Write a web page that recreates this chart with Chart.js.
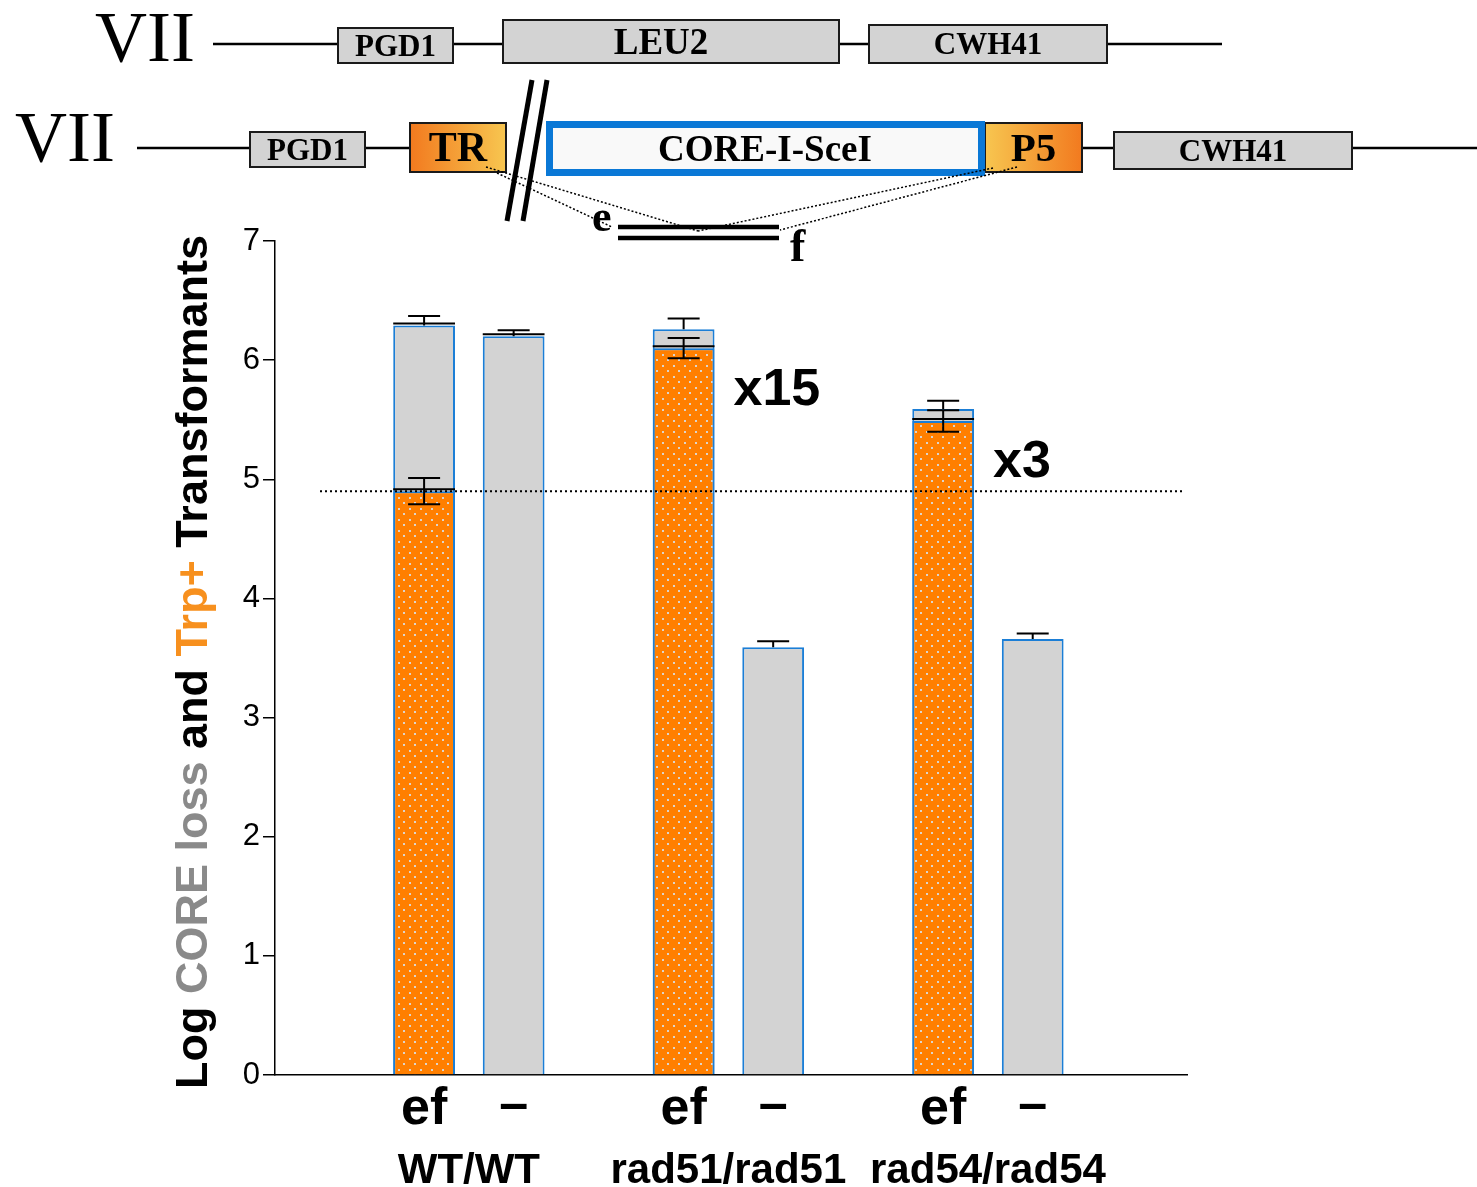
<!DOCTYPE html>
<html>
<head>
<meta charset="utf-8">
<script src="https://cdn.jsdelivr.net/npm/chart.js@4/dist/chart.umd.min.js"></script>
<style>
  html, body { margin: 0; padding: 0; background: #ffffff; }
  canvas { display: block; }
</style>
</head>
<body>
<canvas id="chart" width="1477" height="1187"></canvas>
<script>
// ---- data ----
const genotypes = ['WT/WT', 'rad51/rad51', 'rad54/rad54'];
const barLabels = ['ef', '–'];
// log10 CORE loss after transformation with the ef fragment
const coreLossEf = [6.29, 6.26, 5.59];
const coreLossEfErr = [0.08, 0.09, 0.07];
// log10 Trp+ transformants with the ef fragment
const trpEf = [4.90, 6.10, 5.49];
const trpEfErr = [0.11, 0.085, 0.09];
// log10 CORE loss without fragment
const coreLossNone = [6.20, 3.59, 3.66];
const coreLossNoneErr = [0.05, 0.05, 0.045];
// fold increase of Trp+ transformants over wild type
const foldLabels = ['', 'x15', 'x3'];
const yTicks = [0, 1, 2, 3, 4, 5, 6, 7];

// ---- styles ----
const SANS = '"Liberation Sans", Arial, Helvetica, sans-serif';
const SERIF = '"Liberation Serif", "Times New Roman", serif';
const GREY = '#d3d3d3';
const BLUE = '#1b7ed6';
const ORANGE_TXT = '#f7901e';

function dottedOrange() {
  const t = document.createElement('canvas');
  t.width = 11; t.height = 11;
  const g = t.getContext('2d');
  g.fillStyle = '#ff7f00';
  g.fillRect(0, 0, 11, 11);
  g.fillStyle = '#dcd4cc';
  g.fillRect(2, 2, 2, 2);
  g.fillRect(7, 7, 2, 2);
  return g.createPattern(t, 'repeat');
}

const toPoints = arr => arr.map((v, i) => ({ x: i, y: v }));

// ---- gene map above the plot ----
function geneBox(ctx, x1, y1, x2, y2, fill, label, size, dx) {
  ctx.fillStyle = fill;
  ctx.fillRect(x1, y1, x2 - x1, y2 - y1);
  ctx.strokeStyle = '#1a1a1a';
  ctx.lineWidth = 2;
  ctx.strokeRect(x1, y1, x2 - x1, y2 - y1);
  ctx.fillStyle = '#000';
  ctx.font = 'bold ' + size + 'px ' + SERIF;
  ctx.textAlign = 'center';
  ctx.textBaseline = 'alphabetic';
  ctx.fillText(label, (x1 + x2) / 2 + (dx || 0), (y1 + y2) / 2 + size * 0.33);
}
function gradBox(ctx, x1, y1, x2, y2, cLeft, cRight, label, size) {
  const g = ctx.createLinearGradient(x1, 0, x2, 0);
  g.addColorStop(0, cLeft);
  g.addColorStop(1, cRight);
  geneBox(ctx, x1, y1, x2, y2, g, label, size);
}
function line(ctx, x1, y1, x2, y2, w, dash) {
  ctx.save();
  ctx.strokeStyle = '#000';
  ctx.lineWidth = w;
  ctx.setLineDash(dash || []);
  ctx.beginPath();
  ctx.moveTo(x1, y1);
  ctx.lineTo(x2, y2);
  ctx.stroke();
  ctx.restore();
}

const geneMap = {
  id: 'geneMap',
  afterDraw(chart) {
    const ctx = chart.ctx;
    ctx.save();
    // chromosome VII, wild type
    ctx.fillStyle = '#000';
    ctx.font = '72px ' + SERIF;
    ctx.textAlign = 'left';
    ctx.textBaseline = 'alphabetic';
    ctx.fillText('VII', 95, 61);
    line(ctx, 213, 44, 1222, 44, 2.5);
    geneBox(ctx, 338, 28, 453, 63, GREY, 'PGD1', 31);
    geneBox(ctx, 503, 20, 839, 63, GREY, 'LEU2', 37, -10);
    geneBox(ctx, 869, 25, 1107, 63, GREY, 'CWH41', 31);

    // chromosome VII carrying the CORE-I-SceI insert
    ctx.fillStyle = '#000';
    ctx.font = '72px ' + SERIF;
    ctx.textAlign = 'left';
    ctx.fillText('VII', 15, 161);
    line(ctx, 137, 148, 410, 148, 2.5);
    line(ctx, 1082, 148, 1477, 148, 2.5);
    geneBox(ctx, 250, 132, 365, 167, GREY, 'PGD1', 31);
    gradBox(ctx, 410, 123, 506, 172, '#f27a1f', '#f7c650', 'TR', 42);
    gradBox(ctx, 985, 123, 1082, 172, '#f7c650', '#f27a1f', 'P5', 41);
    geneBox(ctx, 1114, 132, 1352, 169, GREY, 'CWH41', 31);

    // CORE-I-SceI cassette
    ctx.fillStyle = '#f9f9f9';
    ctx.fillRect(546, 121, 439, 55);
    ctx.strokeStyle = '#0a78d6';
    ctx.lineWidth = 7;
    ctx.strokeRect(549.5, 124.5, 432, 48);
    ctx.fillStyle = '#000';
    ctx.font = 'bold 37px ' + SERIF;
    ctx.textAlign = 'center';
    ctx.fillText('CORE-I-SceI', 765, 161);

    // break marks
    line(ctx, 532, 80, 507, 221, 5);
    line(ctx, 547, 80, 523, 221, 5);

    // ef fragment with homology lines
    line(ctx, 486, 167, 698, 231, 1.5, [2, 2]);
    line(ctx, 497, 173, 612, 227, 1.5, [2, 2]);
    line(ctx, 993, 168, 698, 231, 1.5, [2, 2]);
    line(ctx, 1017, 167, 780, 230, 1.5, [2, 2]);
    line(ctx, 618, 227, 779, 227, 4.5);
    line(ctx, 618, 238, 779, 238, 4.5);
    ctx.fillStyle = '#000';
    ctx.font = 'bold 44px ' + SERIF;
    ctx.textAlign = 'left';
    ctx.fillText('e', 592, 231);
    ctx.font = 'bold 46px ' + SERIF;
    ctx.fillText('f', 790, 261);
    ctx.restore();
  }
};

// ---- error bars, reference line, labels ----
const errorBars = {
  id: 'errorBars',
  afterDatasetsDraw(chart) {
    const ctx = chart.ctx;
    const y = chart.scales.y;
    const area = chart.chartArea;
    ctx.save();

    // wild-type Trp+ level
    ctx.strokeStyle = '#000';
    ctx.lineWidth = 2;
    ctx.setLineDash([2, 3]);
    ctx.beginPath();
    ctx.moveTo(area.left + 45, y.getPixelForValue(trpEf[0]));
    ctx.lineTo(area.right - 4, y.getPixelForValue(trpEf[0]));
    ctx.stroke();
    ctx.setLineDash([]);

    chart.data.datasets.forEach((ds, di) => {
      const meta = chart.getDatasetMeta(di);
      meta.data.forEach((bar, i) => {
        const v = ds.data[i].y;
        const e = ds.errors[i];
        const py = y.getPixelForValue(v);
        const half = bar.width / 2;
        const cap = 16;
        ctx.strokeStyle = '#000';
        ctx.lineWidth = 2;
        ctx.beginPath();
        if (ds.meanLine[i]) {
          ctx.moveTo(bar.x - half, py - 2);
          ctx.lineTo(bar.x + half, py - 2);
        }
        const top = y.getPixelForValue(v + e);
        ctx.moveTo(bar.x, py);
        ctx.lineTo(bar.x, top);
        ctx.moveTo(bar.x - cap, top);
        ctx.lineTo(bar.x + cap, top);
        if (ds.twoSided) {
          const bot = y.getPixelForValue(v - e);
          ctx.moveTo(bar.x, py);
          ctx.lineTo(bar.x, bot);
          ctx.moveTo(bar.x - cap, bot);
          ctx.lineTo(bar.x + cap, bot);
        }
        ctx.stroke();
      });
    });

    // fold-change notes beside the Trp+ bars
    const trpMeta = chart.getDatasetMeta(0);
    ctx.fillStyle = '#000';
    ctx.font = 'bold 52px ' + SANS;
    ctx.textAlign = 'left';
    ctx.textBaseline = 'middle';
    foldLabels.forEach((t, i) => {
      if (!t) return;
      const bar = trpMeta.data[i];
      ctx.fillText(t, bar.x + bar.width / 2 + 19, y.getPixelForValue(trpEf[i]) + 42);
    });
    ctx.restore();
  }
};

const axisLabels = {
  id: 'axisLabels',
  afterDraw(chart) {
    const ctx = chart.ctx;
    ctx.save();
    ctx.fillStyle = '#000';
    ctx.textAlign = 'center';
    ctx.textBaseline = 'alphabetic';
    const efMeta = chart.getDatasetMeta(0);
    const noneMeta = chart.getDatasetMeta(2);
    genotypes.forEach((g, i) => {
      const a = efMeta.data[i].x, b = noneMeta.data[i].x;
      ctx.font = 'bold 52px ' + SANS;
      ctx.fillText(barLabels[0], a, 1124);
      ctx.fillText(barLabels[1], b, 1120);
      ctx.font = 'bold 42px ' + SANS;
      ctx.fillText(g, (a + b) / 2, 1183);
    });

    // y-axis title in three colours
    const parts = [['Log ', '#000'], ['CORE loss', '#8a8a8a'], [' and ', '#000'],
                   ['Trp+', ORANGE_TXT], [' Transformants', '#000']];
    ctx.font = 'bold 45px ' + SANS;
    const total = parts.reduce((s, p) => s + ctx.measureText(p[0]).width, 0);
    ctx.translate(207, 662);
    ctx.rotate(-Math.PI / 2);
    ctx.textAlign = 'left';
    let x = -total / 2;
    parts.forEach(([t, c]) => {
      ctx.fillStyle = c;
      ctx.fillText(t, x, 0);
      x += ctx.measureText(t).width;
    });
    ctx.restore();
  }
};

const ctx = document.getElementById('chart').getContext('2d');
const orangeFill = dottedOrange();

new Chart(ctx, {
  type: 'bar',
  data: {
    datasets: [
      {
        label: 'Trp+ transformants (ef)',
        data: toPoints(trpEf),
        errors: trpEfErr,
        twoSided: true,
        meanLine: [true, true, true],
        stack: 'ef',
        backgroundColor: orangeFill,
        borderColor: BLUE,
        borderWidth: 2
      },
      {
        label: 'CORE loss (ef)',
        data: toPoints(coreLossEf),
        errors: coreLossEfErr,
        twoSided: false,
        meanLine: [true, false, false],
        stack: 'ef',
        backgroundColor: GREY,
        borderColor: BLUE,
        borderWidth: 2
      },
      {
        label: 'CORE loss (none)',
        data: toPoints(coreLossNone),
        errors: coreLossNoneErr,
        twoSided: false,
        meanLine: [true, false, false],
        stack: 'none',
        backgroundColor: GREY,
        borderColor: BLUE,
        borderWidth: 2
      }
    ]
  },
  options: {
    responsive: false,
    animation: false,
    devicePixelRatio: 1,
    categoryPercentage: 0.69,
    barPercentage: 0.69,
    layout: { padding: { left: 0, top: 241, right: 290, bottom: 112 } },
    plugins: { legend: { display: false }, tooltip: { enabled: false } },
    scales: {
      x: {
        type: 'linear',
        min: -0.747,
        max: 2.767,
        offset: false,
        afterBuildTicks: s => { s.ticks = genotypes.map((g, i) => ({ value: i })); },
        ticks: { display: false },
        grid: { display: false, drawTicks: false, offset: false },
        border: { display: true, color: '#000', width: 1.5 },
        afterFit: s => { s.height = 0; }
      },
      y: {
        type: 'linear',
        min: 0,
        max: 7,
        stacked: false,
        afterBuildTicks: s => { s.ticks = yTicks.map(v => ({ value: v })); },
        ticks: { color: '#000', font: { family: SANS, size: 31 }, padding: 3 },
        grid: { display: true, drawOnChartArea: false, drawTicks: true, tickLength: 12, color: '#000', lineWidth: 1.5 },
        border: { display: true, color: '#000', width: 1.5 },
        afterFit: s => { s.width = 275; }
      }
    }
  },
  plugins: [errorBars, axisLabels, geneMap]
});
</script>
</body>
</html>
